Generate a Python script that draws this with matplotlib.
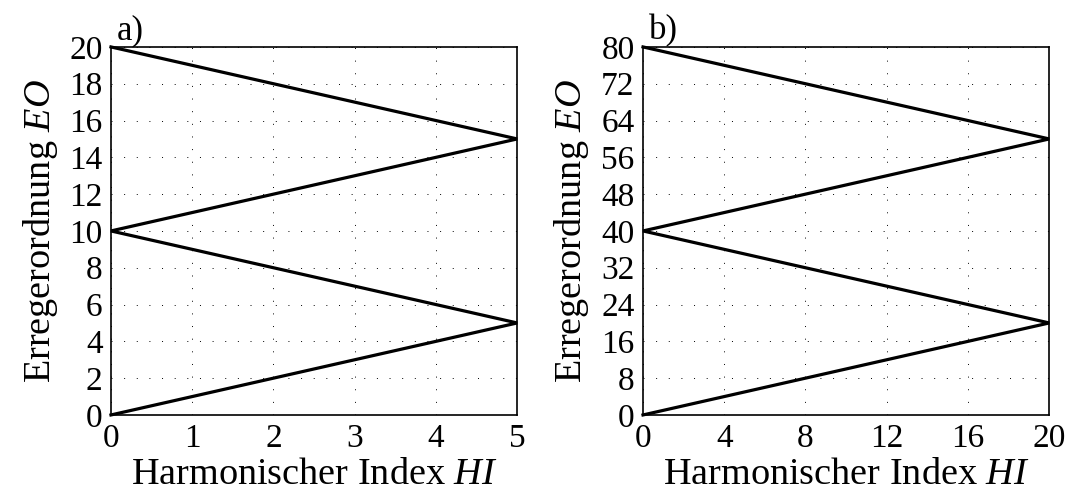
import numpy as np
import matplotlib
matplotlib.use("Agg")
import matplotlib.pyplot as plt

plt.rcParams['font.family'] = ['Liberation Serif', 'DejaVu Serif']
plt.rcParams['mathtext.fontset'] = 'custom'
plt.rcParams['mathtext.rm'] = 'Liberation Serif'
plt.rcParams['mathtext.it'] = 'Liberation Serif:italic'
plt.rcParams['font.size'] = 23

# data: zigzag lines in both panels
hi_a = [0, 5, 0, 5, 0]
eo_a = [0, 5, 10, 15, 20]
hi_b = [0, 20, 0, 20, 0]
eo_b = [0, 20, 40, 60, 80]

xticks_a = [0, 1, 2, 3, 4, 5]
yticks_a = [0, 2, 4, 6, 8, 10, 12, 14, 16, 18, 20]
xticks_b = [0, 4, 8, 12, 16, 20]
yticks_b = [0, 8, 16, 24, 32, 40, 48, 56, 64, 72, 80]

fig = plt.figure(figsize=(10.69, 4.94), dpi=100)
ax1 = fig.add_axes([0.1038, 0.160, 0.380, 0.745])
ax2 = fig.add_axes([0.6015, 0.160, 0.380, 0.745])

def setup(ax, x, y, xt, yt, title):
	ax.plot(x, y, color='black', lw=2.3, solid_joinstyle='miter', clip_on=False, zorder=3)
	ax.set_xlim(xt[0], xt[-1])
	ax.set_ylim(yt[0], yt[-1])
	ax.set_xticks(xt)
	ax.set_yticks(yt)
	ax.tick_params(length=0, pad=6, labelsize=24)
	ax.grid(True, color='black', lw=0.7, linestyle=(0, (1, 12)))
	for s in ax.spines.values():
		s.set_linewidth(1.2)
	ax.set_xlabel('Harmonischer Index $HI$', labelpad=3, fontsize=27.5)
	ax.set_ylabel('Erregerordnung $EO$', labelpad=7, fontsize=27.5)
	ax.set_title(title, loc='left', pad=1, x=0.015, fontsize=25)

setup(ax1, hi_a, eo_a, xticks_a, yticks_a, 'a)')
setup(ax2, hi_b, eo_b, xticks_b, yticks_b, 'b)')

plt.savefig('out.png', dpi=100)
